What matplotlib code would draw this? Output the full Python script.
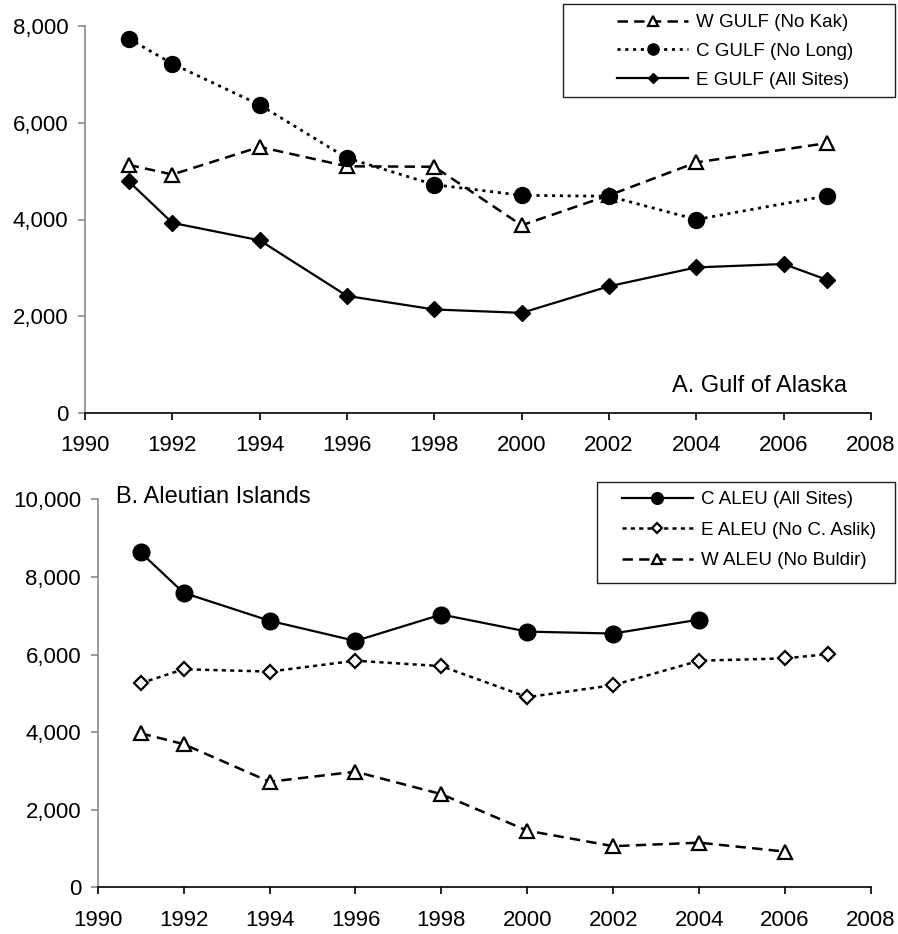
import matplotlib
matplotlib.use("Agg")
import matplotlib.pyplot as plt
from matplotlib.ticker import FuncFormatter, MultipleLocator
from matplotlib.patches import Rectangle

plt.rcParams['font.family'] = ['Liberation Sans', 'DejaVu Sans']
plt.rcParams['lines.scale_dashes'] = False

# ---- Data: A. Gulf of Alaska ----
wgulf_years = [1991, 1992, 1994, 1996, 1998, 2000, 2002, 2004, 2007]
wgulf_vals = [5130, 4930, 5500, 5100, 5090, 3880, 4500, 5180, 5580]
cgulf_years = [1991, 1992, 1994, 1996, 1998, 2000, 2002, 2004, 2007]
cgulf_vals = [7740, 7220, 6370, 5270, 4720, 4500, 4480, 4000, 4490]
egulf_years = [1991, 1992, 1994, 1996, 1998, 2000, 2002, 2004, 2006, 2007]
egulf_vals = [4790, 3930, 3570, 2420, 2140, 2070, 2620, 3010, 3080, 2750]

# ---- Data: B. Aleutian Islands ----
caleu_years = [1991, 1992, 1994, 1996, 1998, 2000, 2002, 2004]
caleu_vals = [8630, 7590, 6870, 6350, 7030, 6590, 6540, 6900]
ealeu_years = [1991, 1992, 1994, 1996, 1998, 2000, 2002, 2004, 2006, 2007]
ealeu_vals = [5260, 5620, 5560, 5840, 5700, 4900, 5210, 5840, 5900, 6010]
waleu_years = [1991, 1992, 1994, 1996, 1998, 2000, 2002, 2004, 2006]
waleu_vals = [3970, 3690, 2720, 2980, 2400, 1460, 1060, 1150, 920]

top_labels = ["W GULF (No Kak)", "C GULF (No Long)", "E GULF (All Sites)"]
bot_labels = ["C ALEU (All Sites)", "E ALEU (No C. Aslik)", "W ALEU (No Buldir)"]
xticks = list(range(1990, 2009, 2))

W, H = 898, 934
fig = plt.figure(figsize=(W / 100, H / 100), dpi=100)

def fx(px):
    return px / W

def fy(py):
    return 1 - py / H

ax1 = fig.add_axes([fx(85), fy(413), fx(871 - 85), (413 - 26) / H])
ax2 = fig.add_axes([fx(97.7), fy(887.3), fx(871 - 97.7), (887.3 - 499.3) / H])

DASH = (0, (7.5, 4.5))
DOT = (0, (2.2, 3.4))
SDASH = (0, (3.0, 3.0))

# Top panel
ax1.plot(wgulf_years, wgulf_vals, color='black', lw=1.8, linestyle=DASH,
         marker='^', ms=10, mfc='white', mec='black', mew=1.6, label=top_labels[0], zorder=3)
ax1.plot(cgulf_years, cgulf_vals, color='black', lw=2.0, linestyle=DOT,
         marker='o', ms=11.5, mfc='black', mec='black', label=top_labels[1], zorder=4)
ax1.plot(egulf_years, egulf_vals, color='black', lw=1.6, linestyle='-',
         marker='D', ms=8, mfc='black', mec='black', label=top_labels[2], zorder=3)

# Bottom panel
ax2.plot(caleu_years, caleu_vals, color='black', lw=1.6, linestyle='-',
         marker='o', ms=12, mfc='black', mec='black', label=bot_labels[0], zorder=3)
ax2.plot(ealeu_years, ealeu_vals, color='black', lw=1.8, linestyle=SDASH,
         marker='D', ms=7.5, mfc='white', mec='black', mew=1.6, label=bot_labels[1], zorder=3)
ax2.plot(waleu_years, waleu_vals, color='black', lw=1.8, linestyle=DASH,
         marker='^', ms=10, mfc='white', mec='black', mew=1.6, label=bot_labels[2], zorder=3)

fmt = FuncFormatter(lambda v, p: f"{int(v):,}")
for ax, ymax in ((ax1, 8000), (ax2, 10000)):
    ax.set_xlim(1990, 2008)
    ax.set_ylim(0, ymax)
    ax.set_xticks(xticks)
    ax.yaxis.set_major_locator(MultipleLocator(2000))
    ax.yaxis.set_major_formatter(fmt)
    ax.spines['top'].set_visible(False)
    ax.spines['right'].set_visible(False)
    ax.spines['left'].set_color('#8a8a8a')
    ax.spines['left'].set_linewidth(1.2)
    ax.spines['bottom'].set_color('black')
    ax.spines['bottom'].set_linewidth(1.2)
    ax.tick_params(axis='y', direction='out', length=5, width=1.2, color='#8a8a8a',
                   labelsize=16, pad=7)
    ax.tick_params(axis='x', direction='out', length=5, width=1.2, color='black',
                   labelsize=16, pad=11)
    ax.set_facecolor('white')
    ax.patch.set_alpha(0)

# Legends (frames drawn separately to match the reference boxes)
leg1 = ax1.legend(loc='center left', bbox_to_anchor=(fx(617), fy(51.3)),
                  bbox_transform=fig.transFigure, borderaxespad=0, borderpad=0,
                  fontsize=13.5, frameon=False, handlelength=3.8,
                  handletextpad=0.4, labelspacing=0.62, markerscale=0.7)
fig.add_artist(Rectangle((fx(563), fy(97)), fx(895 - 563), (97 - 4) / H,
                         transform=fig.transFigure, fill=False,
                         edgecolor='#222222', lw=1.0, zorder=1))

leg2 = ax2.legend(loc='center left', bbox_to_anchor=(fx(621.7), fy(530.3)),
                  bbox_transform=fig.transFigure, borderaxespad=0, borderpad=0,
                  fontsize=13.5, frameon=False, handlelength=3.8,
                  handletextpad=0.45, labelspacing=0.72, markerscale=0.7)
fig.add_artist(Rectangle((fx(596.7), fy(583.3)), fx(895 - 596.7), (583.3 - 481.7) / H,
                         transform=fig.transFigure, fill=False,
                         edgecolor='#222222', lw=1.0, zorder=1))

fig.text(fx(671.7), fy(392.3), "A. Gulf of Alaska", fontsize=17,
         ha='left', va='baseline')
fig.text(fx(116), fy(503.3), "B. Aleutian Islands", fontsize=17,
         ha='left', va='baseline')

fig.savefig("out.png", dpi=100, facecolor='white')
